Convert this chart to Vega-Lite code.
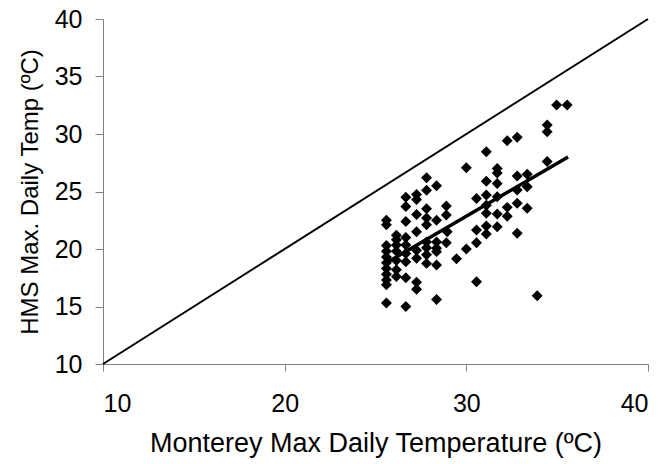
{
  "$schema": "https://vega.github.io/schema/vega-lite/v6.json",
  "width": 545,
  "height": 345,
  "autosize": "none",
  "padding": {"left": 103, "top": 19, "right": 17, "bottom": 100},
  "background": "white",
  "config": {
    "view": {"stroke": null},
    "axis": {"grid": false, "labelFont": "Liberation Sans", "titleFont": "Liberation Sans", "labelColor": "black", "titleColor": "black", "domainColor": "#808080", "tickColor": "#808080", "labelFontSize": 25, "titleFontWeight": "normal"}
  },
  "datasets": {
    "pts": [
      {"x": 25.6, "y": 22.5}, {"x": 25.6, "y": 22.1}, {"x": 25.6, "y": 20.3}, {"x": 25.6, "y": 19.8}, {"x": 25.6, "y": 19.3}, {"x": 25.6, "y": 18.8}, {"x": 25.6, "y": 18.3}, {"x": 25.6, "y": 17.8}, {"x": 25.6, "y": 17.3}, {"x": 25.6, "y": 16.9}, {"x": 25.6, "y": 15.3},
      {"x": 26.15, "y": 21.2}, {"x": 26.15, "y": 20.8}, {"x": 26.15, "y": 20.35}, {"x": 26.15, "y": 19.8}, {"x": 26.15, "y": 19.0}, {"x": 26.15, "y": 18.2}, {"x": 26.15, "y": 17.6},
      {"x": 26.67, "y": 24.5}, {"x": 26.67, "y": 23.7}, {"x": 26.67, "y": 22.4}, {"x": 26.67, "y": 21.0}, {"x": 26.67, "y": 20.35}, {"x": 26.67, "y": 19.6}, {"x": 26.67, "y": 18.9}, {"x": 26.67, "y": 17.5}, {"x": 26.67, "y": 15.0},
      {"x": 27.26, "y": 24.75}, {"x": 27.26, "y": 24.3}, {"x": 27.26, "y": 23.0}, {"x": 27.26, "y": 21.5}, {"x": 27.26, "y": 19.9}, {"x": 27.26, "y": 19.2}, {"x": 27.26, "y": 17.1}, {"x": 27.26, "y": 16.5},
      {"x": 27.81, "y": 26.2}, {"x": 27.81, "y": 25.1}, {"x": 27.81, "y": 23.5}, {"x": 27.81, "y": 22.7}, {"x": 27.81, "y": 22.1}, {"x": 27.81, "y": 20.6}, {"x": 27.81, "y": 20.1}, {"x": 27.81, "y": 19.5}, {"x": 27.81, "y": 18.75},
      {"x": 28.36, "y": 25.5}, {"x": 28.36, "y": 22.5}, {"x": 28.36, "y": 20.6}, {"x": 28.36, "y": 20.06}, {"x": 28.36, "y": 19.77}, {"x": 28.36, "y": 18.6}, {"x": 28.36, "y": 15.6},
      {"x": 28.9, "y": 23.74}, {"x": 28.9, "y": 22.96}, {"x": 28.95, "y": 21.5}, {"x": 28.9, "y": 20.55},
      {"x": 29.46, "y": 19.15},
      {"x": 30.0, "y": 27.07}, {"x": 30.0, "y": 20.0},
      {"x": 30.56, "y": 24.4}, {"x": 30.56, "y": 21.65}, {"x": 30.56, "y": 20.55}, {"x": 30.56, "y": 17.16},
      {"x": 31.1, "y": 28.46}, {"x": 31.1, "y": 25.9}, {"x": 31.1, "y": 24.7}, {"x": 31.1, "y": 23.8}, {"x": 31.1, "y": 23.1}, {"x": 31.1, "y": 22.0}, {"x": 31.1, "y": 21.3},
      {"x": 31.7, "y": 27.0}, {"x": 31.7, "y": 26.6}, {"x": 31.7, "y": 25.7}, {"x": 31.7, "y": 24.55}, {"x": 31.7, "y": 23.04}, {"x": 31.7, "y": 21.94},
      {"x": 32.25, "y": 29.42}, {"x": 32.25, "y": 23.62}, {"x": 32.25, "y": 22.85},
      {"x": 32.8, "y": 29.71}, {"x": 32.8, "y": 26.35}, {"x": 32.8, "y": 25.13}, {"x": 32.8, "y": 23.97}, {"x": 32.8, "y": 21.37},
      {"x": 33.35, "y": 26.5}, {"x": 33.35, "y": 25.42}, {"x": 33.35, "y": 23.54},
      {"x": 33.9, "y": 15.94},
      {"x": 34.45, "y": 30.78}, {"x": 34.45, "y": 30.2}, {"x": 34.45, "y": 27.6},
      {"x": 34.97, "y": 32.52}, {"x": 35.55, "y": 32.52}
    ],
    "diag": [{"x": 10, "y": 10}, {"x": 40, "y": 40}],
    "trend": [{"x": 25.6, "y": 18.8}, {"x": 35.6, "y": 28.0}]
  },
  "layer": [
    {
      "data": {"name": "diag"},
      "mark": {"type": "line", "color": "black", "strokeWidth": 2},
      "encoding": {
        "x": {"field": "x", "type": "quantitative", "scale": {"domain": [10, 40]}, "axis": {"values": [10, 20, 30, 40], "title": "Monterey Max Daily Temperature (ºC)", "tickSize": 7, "labelPadding": 20, "titleFontSize": 27, "titlePadding": 14}},
        "y": {"field": "y", "type": "quantitative", "scale": {"domain": [10, 40]}, "axis": {"values": [10, 15, 20, 25, 30, 35, 40], "title": "HMS Max. Daily Temp (ºC)", "tickSize": 8, "labelPadding": 13, "titleFontSize": 24, "titlePadding": 12}}
      }
    },
    {
      "data": {"name": "pts"},
      "mark": {"type": "point", "shape": "diamond", "filled": true, "color": "black", "opacity": 1, "size": 120},
      "encoding": {
        "x": {"field": "x", "type": "quantitative"},
        "y": {"field": "y", "type": "quantitative"}
      }
    },
    {
      "data": {"name": "trend"},
      "mark": {"type": "line", "color": "black", "strokeWidth": 3.5},
      "encoding": {
        "x": {"field": "x", "type": "quantitative"},
        "y": {"field": "y", "type": "quantitative"}
      }
    }
  ]
}
